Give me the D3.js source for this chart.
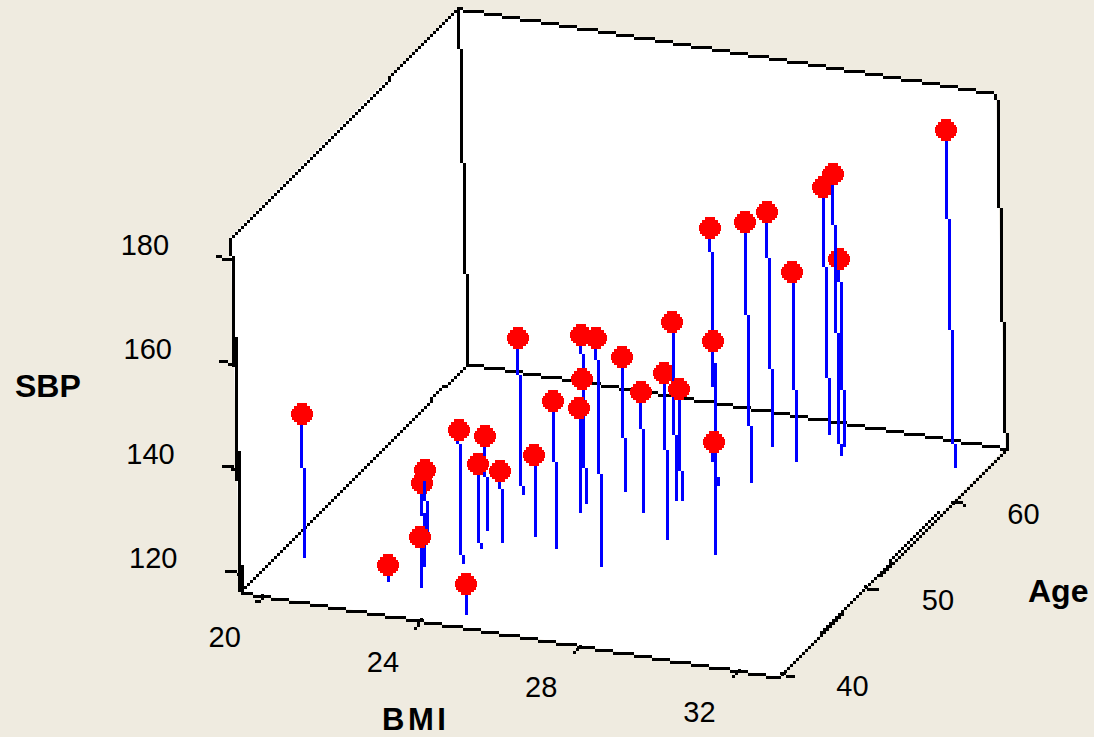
<!DOCTYPE html>
<html>
<head>
<meta charset="utf-8">
<script src="https://cdn.jsdelivr.net/npm/d3@7/dist/d3.min.js"></script>
<style>
  html, body { margin: 0; padding: 0; background: #efebe0; overflow: hidden; }
  svg { display: block; }
  text { font-family: "Liberation Sans", sans-serif; fill: #000; }
</style>
</head>
<body>
<div class="canvas"></div>
<script>
const bmi = [20.06, 22.42, 22.88, 22.29, 23.22, 23.64, 24.83, 23.43, 23.69, 24.04, 23.43, 24.63, 25.37, 25.04, 24.09, 25.14,
  26.77, 25.62, 26.51, 27.58, 26.96, 27.07, 27.50, 26.93, 28.98, 28.18, 27.89, 28.70, 28.84, 29.45, 29.56, 32.27];
const age = [44.19, 42.99, 45.07, 48.10, 43.11, 45.97, 41.03, 49.89, 47.84, 48.82, 53.96, 50.03, 49.09, 53.97, 58.13, 52.99,
  47.90, 55.9, 53.99, 51.86, 55.71, 55.79, 57.94, 60.43, 51.01, 58.8, 62.67, 61.71, 64.87, 63.80, 62.80, 63.64];
const sbp = [143.7, 119.6, 132.4, 129.2, 125.7, 142.0, 122.1, 134.2, 132.5, 129.9, 146.2, 131.7, 144.5, 148.7, 132.3, 136.5,
  160.2, 142.0, 139.5, 148.0, 150.6, 137.8, 165.6, 139.2, 137.8, 166.15, 161.4, 152.4, 163.7, 152.4, 170.4, 180.7];

const bmiTicks = [20, 24, 28, 32];
const ageTicks = [40, 50, 60];
const sbpTicks = [120, 140, 160, 180];

const bmiDomain = [19.4, 33];
const ageDomain = [39.6, 66.2];
const sbpDomain = [116.4, 184.4];

const svg = d3.select('.canvas')
  .append('svg')
  .attr('width', 1094)
  .attr('height', 737);

// each axis moves a point along its own screen direction
const bmiX = d3.scaleLinear().domain(bmiDomain).range([0, 538]);
const bmiY = d3.scaleLinear().domain(bmiDomain).range([0, 85]);
const ageX = d3.scaleLinear().domain(ageDomain).range([0, 227.4]);
const ageY = d3.scaleLinear().domain(ageDomain).range([0, -228.8]);
const sbpX = d3.scaleLinear().domain(sbpDomain).range([0, -9.5]);
const sbpY = d3.scaleLinear().domain(sbpDomain).range([0, -355]);

const project = (b, a, s) => [
  240 + bmiX(b) + ageX(a) + sbpX(s),
  592 + bmiY(b) + ageY(a) + sbpY(s)
];

// chunky 3px pixels, the source picture is a low res screenshot blown up
const cell = 3;
const pixelLine = (p0, p1) => {
  const dx = p1[0] - p0[0], dy = p1[1] - p0[1];
  const n = Math.ceil(Math.max(Math.abs(dx), Math.abs(dy)) / cell);
  let d = '';
  for (let i = 0; i <= n; i++) {
    const gx = Math.round((p0[0] + dx * i / n - cell / 2) / cell) * cell;
    const gy = Math.round((p0[1] + dy * i / n - cell / 2) / cell) * cell;
    d += `M${gx} ${gy}h${cell}v${cell}h${-cell}z`;
  }
  return d;
};

const [bMin, bMax] = bmiDomain, [aMin, aMax] = ageDomain, [sMin, sMax] = sbpDomain;

// white box
svg.append('path')
  .attr('fill', '#fff')
  .attr('d', d3.line()([
    project(bMin, aMin, sMin), project(bMin, aMin, sMax), project(bMin, aMax, sMax),
    project(bMax, aMax, sMax), project(bMax, aMax, sMin), project(bMax, aMin, sMin)
  ]) + 'Z');

const edges = [
  [[bMin, aMin, sMin], [bMax, aMin, sMin]],
  [[bMax, aMin, sMin], [bMax, aMax, sMin]],
  [[bMax, aMax, sMin], [bMin, aMax, sMin]],
  [[bMin, aMax, sMin], [bMin, aMin, sMin]],
  [[bMin, aMin, sMin], [bMin, aMin, sMax]],
  [[bMin, aMin, sMax], [bMin, aMax, sMax]],
  [[bMin, aMax, sMax], [bMax, aMax, sMax]],
  [[bMax, aMax, sMax], [bMax, aMax, sMin]],
  [[bMin, aMax, sMin], [bMin, aMax, sMax]],
  // the axis lines are drawn a second time over the box, slightly off, so they thicken in places
  [[bMin + 0.02, aMin, sMin], [bMin + 0.02, aMin, sMax - 8]],
  [[bMax, aMin + 0.1, sMin], [bMax, aMax - 8, sMin + 1]]
];

svg.append('g')
  .attr('transform', 'translate(1, 1)')
  .selectAll('path')
  .data(edges)
  .enter()
  .append('path')
  .attr('shape-rendering', 'crispEdges')
  .attr('d', d => pixelLine(project(...d[0]), project(...d[1])));

// tick marks
const ticks = svg.append('g');
const tickMark = (p, ox, oy) => ticks.append('path')
  .attr('shape-rendering', 'crispEdges')
  .attr('d', pixelLine(p, [p[0] + ox, p[1] + oy]));

bmiTicks.forEach(t => tickMark(project(t, aMin, sMin), -6, 7));
ageTicks.forEach(t => tickMark(project(bMax, t, sMin), 12, 3));
sbpTicks.forEach(t => tickMark(project(bMin, aMin, t), -14, -3));

// tick labels
const labels = svg.append('g').attr('font-size', 29);

labels.selectAll('.bmi')
  .data(bmiTicks)
  .enter()
  .append('text')
  .attr('text-anchor', 'middle')
  .attr('x', d => project(d, aMin, sMin)[0] - 39)
  .attr('y', d => project(d, aMin, sMin)[1] + 51)
  .text(d => d);

labels.selectAll('.age')
  .data(ageTicks)
  .enter()
  .append('text')
  .attr('text-anchor', 'middle')
  .attr('x', d => project(bMax, d, sMin)[0] + 71)
  .attr('y', d => project(bMax, d, sMin)[1] + 22)
  .text(d => d);

labels.selectAll('.sbp')
  .data(sbpTicks)
  .enter()
  .append('text')
  .attr('text-anchor', 'end')
  .attr('x', d => project(bMin, aMin, d)[0] - 62)
  .attr('y', d => project(bMin, aMin, d)[1] - 5)
  .text(d => d);

// axis titles
const titles = [['SBP', 15, 397, 0], ['BMI', 382, 730, 3.5], ['Age', 1028, 602, 0]];
svg.append('g').selectAll('text')
  .data(titles)
  .enter()
  .append('text')
  .attr('font-size', d => d[3] ? 31 : 32)
  .attr('font-weight', 'bold')
  .attr('letter-spacing', d => d[3])
  .attr('x', d => d[1])
  .attr('y', d => d[2])
  .text(d => d[0]);

// stepped round marker, half widths per row
const markerRows = [5, 8, 10, 11, 11, 10, 8, 5];
const rowH = 22 / markerRows.length;
let marker = '';
markerRows.forEach((w, i) => {
  marker += `M${-w} ${-11 + i * rowH}h${2 * w}v${rowH}h${-2 * w}z`;
});

// stem then marker, point by point so later ones sit on top
const points = svg.append('g')
  .selectAll('g')
  .data(bmi.map((b, i) => i))
  .enter()
  .append('g');

points.append('path')
  .attr('fill', '#0000ff')
  .attr('shape-rendering', 'crispEdges')
  .attr('d', i => pixelLine(project(bmi[i], age[i], sbp[i]), project(bmi[i], age[i], sMin)));

points.append('path')
  .attr('fill', '#ff0000')
  .attr('shape-rendering', 'crispEdges')
  .attr('transform', i => {
    const p = project(bmi[i], age[i], sbp[i]);
    return `translate(${Math.round(p[0])}, ${Math.round(p[1])})`;
  })
  .attr('d', marker);
</script>
</body>
</html>
